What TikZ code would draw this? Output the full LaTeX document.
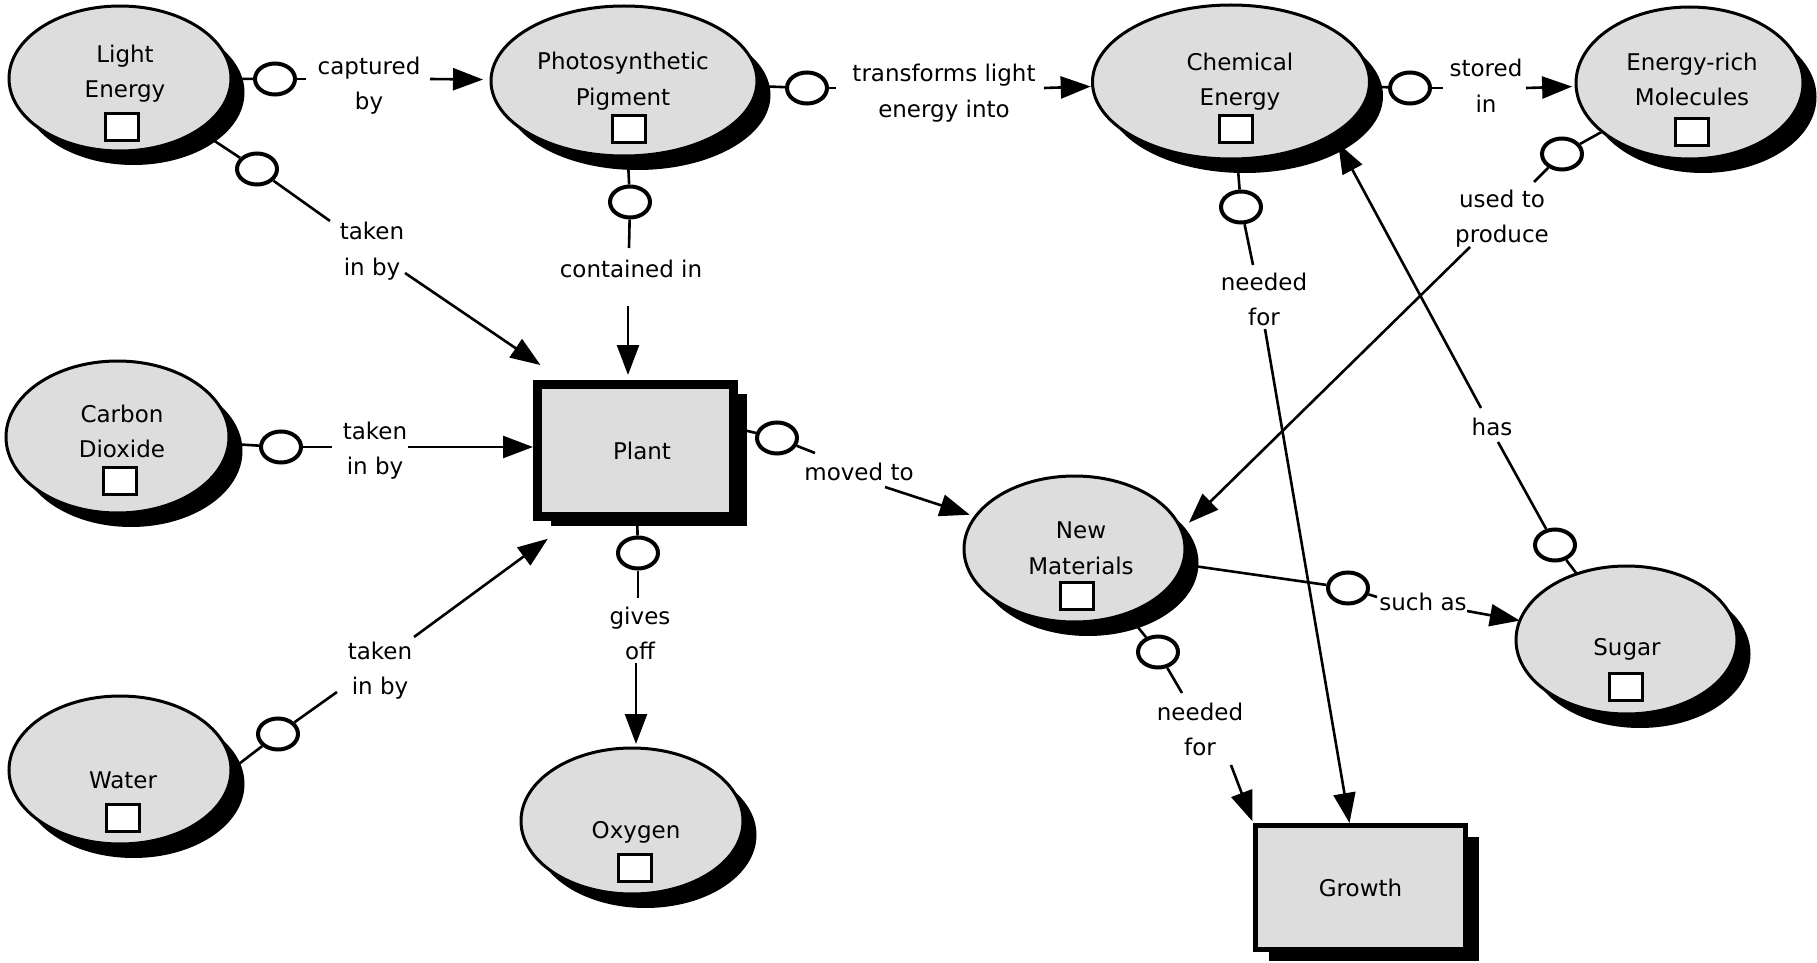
\documentclass[tikz,border=0pt]{standalone}
\usepackage{fontspec}
\setmainfont{DejaVu Sans}
\usetikzlibrary{shapes.geometric,shadows,arrows.meta}
\definecolor{cgrey}{RGB}{221,221,221}
\newcommand\ls{\rule[-8pt]{0pt}{16pt}}
\begin{document}
\begin{tikzpicture}[x=0.5pt,y=-0.5pt,
  font=\fontsize{11.5pt}{16pt}\selectfont,
  concept/.style={ellipse, draw, line width=1.5pt, fill=cgrey, inner sep=0pt, outer sep=0pt,
     drop shadow={shadow xshift=6.75pt, shadow yshift=-7pt, fill=black, opacity=1}},
  cbox/.style={rectangle, draw, fill=cgrey, inner sep=0pt},
  sqbox/.style={rectangle, draw, fill=white, line width=1.5pt, minimum width=16.5pt, minimum height=13.5pt, inner sep=0pt},
  ctext/.style={align=center, inner sep=0pt},
  ltext/.style={align=center, inner sep=0pt},
  conn/.style={ellipse, draw, fill=white, line width=2pt, minimum width=20pt, minimum height=15.5pt, inner sep=0pt},
  link/.style={line width=1.3pt},
  arr/.style={line width=1.3pt, -{Triangle[length=15pt,width=11pt]}}
]
\useasboundingbox (0,0) rectangle (1817,963);

% concepts
\node[concept, minimum width=111pt, minimum height=72.5pt] (le) at (120,78.5) {};
\node[concept, minimum width=133pt, minimum height=75pt] (pp) at (624,81) {};
\node[concept, minimum width=138.5pt, minimum height=77pt] (ce) at (1231,82) {};
\node[concept, minimum width=113.5pt, minimum height=76pt] (erm) at (1689.5,83) {};
\node[concept, minimum width=111.5pt, minimum height=76pt] (cd) at (117.5,437) {};
\node[concept, minimum width=111pt, minimum height=74pt] (w) at (120,770) {};
\node[concept, minimum width=111pt, minimum height=73pt] (o) at (632,821) {};
\node[concept, minimum width=110.5pt, minimum height=73pt] (nm) at (1074.5,549) {};
\node[concept, minimum width=110.5pt, minimum height=74pt] (s) at (1626.5,640) {};

\node[cbox, line width=4.5pt, minimum width=98pt, minimum height=66pt,
  drop shadow={shadow xshift=6.75pt, shadow yshift=-4.75pt, fill=black, opacity=1}] (plant) at (635.5,450.5) {\hspace*{6.5pt}Plant};
\node[cbox, line width=2.5pt, minimum width=105pt, minimum height=62pt,
  drop shadow={shadow xshift=6.75pt, shadow yshift=-5.75pt, fill=black, opacity=1}] (g) at (1360.5,887.5) {Growth};

% concept texts
\node[ctext] (le-t) at (125,79) {\ls Light\\\ls Energy};
\node[ctext] (pp-t) at (623,87) {\ls Photosynthetic\\\ls Pigment};
\node[ctext] (ce-t) at (1240,87.5) {\ls Chemical\\\ls Energy};
\node[ctext] (erm-t) at (1692,87.5) {\ls Energy-rich\\\ls Molecules};
\node[ctext] (cd-t) at (122,439) {\ls Carbon\\\ls Dioxide};
\node[ctext] (w-t) at (123,788) {\ls Water};
\node[ctext] (o-t) at (636,838) {\ls Oxygen};
\node[ctext] (nm-t) at (1081,556) {\ls New\\\ls Materials};
\node[ctext] (s-t) at (1627,655) {\ls Sugar};

% squares
\node[sqbox] (le-s) at (122,127) {};
\node[sqbox] (pp-s) at (628.5,129) {};
\node[sqbox] (ce-s) at (1235.5,129.5) {};
\node[sqbox] (erm-s) at (1691.5,132) {};
\node[sqbox] (cd-s) at (120,481) {};
\node[sqbox] (w-s) at (122.5,817.5) {};
\node[sqbox] (o-s) at (634.5,867.5) {};
\node[sqbox] (nm-s) at (1077,596) {};
\node[sqbox] (s-s) at (1626,687) {};

% connector circles
\node[conn] (c1) at (275,79) {};
\node[conn] (c2) at (257,169) {};
\node[conn] (c3) at (630,202) {};
\node[conn] (c4) at (281,447) {};
\node[conn] (c5) at (278,734) {};
\node[conn] (c6) at (638,553) {};
\node[conn] (c7) at (777,438) {};
\node[conn] (c8) at (1348,588) {};
\node[conn] (c9) at (1158,652) {};
\node[conn] (c10) at (1241,207) {};
\node[conn] (c11) at (1562,154) {};
\node[conn] (c12) at (1555,545) {};
\node[conn] (c13) at (807,88) {};
\node[conn] (c14) at (1410,88) {};

% link labels
\node[ltext] (l1) at (369,91) {\ls captured\\\ls by};
\node[ltext] (l2) at (372,257) {\ls taken\\\ls in by};
\node[ltext] (l3) at (631,277) {\ls contained in};
\node[ltext] (l4) at (375,456.5) {\ls taken\\\ls in by};
\node[ltext] (l5) at (380,676) {\ls taken\\\ls in by};
\node[ltext] (l6) at (640,641) {\ls gives\\\ls off};
\node[ltext] (l7) at (859,480) {\ls moved to};
\node[ltext] (l8) at (1423,610) {\ls such as};
\node[ltext] (l9) at (1200,737) {\ls needed\\\ls for};
\node[ltext] (l10) at (1264,307.5) {\ls needed\\\ls for};
\node[ltext] (l11) at (1502,224) {\ls used to\\\ls produce};
\node[ltext] (l12) at (1492,435) {\ls has};
\node[ltext] (l13) at (944,99) {\ls transforms light\\\ls energy into};
\node[ltext] (l14) at (1486,94) {\ls stored\\\ls in};

% label ends
\coordinate (l1a) at (306,79);   \coordinate (l1b) at (430,79);
\coordinate (l2a) at (330,221);  \coordinate (l2b) at (405,273);
\coordinate (l3a) at (629,248);  \coordinate (l3b) at (628,306);
\coordinate (l4a) at (332,447);  \coordinate (l4b) at (408,447);
\coordinate (l5a) at (337,692);  \coordinate (l5b) at (414,637);
\coordinate (l6a) at (638,598);  \coordinate (l6b) at (636,663);
\coordinate (l7a) at (815,453);  \coordinate (l7b) at (885,487);
\coordinate (l8a) at (1377,597); \coordinate (l8b) at (1467,611);
\coordinate (l9a) at (1182,693); \coordinate (l9b) at (1231,765);
\coordinate (l10a) at (1253,265); \coordinate (l10b) at (1265,329);
\coordinate (l11a) at (1534,182); \coordinate (l11b) at (1470,247);
\coordinate (l12a) at (1498,442); \coordinate (l12b) at (1481,408);
\coordinate (l13a) at (836,88);  \coordinate (l13b) at (1044,88);
\coordinate (l14a) at (1443,88); \coordinate (l14b) at (1526,88);

% links
\draw[link] (le) -- (c1);
\draw[link] (c1) -- (l1a);
\draw[arr, shorten >=4pt] (l1b) -- (pp);

\draw[link] (le) -- (c2);
\draw[link] (c2) -- (l2a);
\draw[arr, shorten >=13.3pt] (l2b) -- (plant.136);

\draw[link] (pp) -- (c3);
\draw[link] (c3) -- (l3a);
\draw[arr, shorten >=2.5pt] (l3b) -- (l3b |- plant.north);

\draw[link] (cd) -- (c4);
\draw[link] (c4) -- (l4a);
\draw[arr] (l4b) -- (l4b -| plant.west);

\draw[link] (w.east) -- (c5);
\draw[link] (c5) -- (l5a);
\draw[arr, shorten >=15pt] (l5b) -- (plant.-132.5);

\draw[link] (plant) -- (c6);
\draw[link] (c6) -- (l6a);
\draw[arr, shorten >=2pt] (l6b) -- (l6b |- o.north);

\draw[link] (plant.12) -- (c7);
\draw[link] (c7) -- (l7a);
\draw[arr, shorten >=3pt] (l7b) -- (nm);

\draw[link] (nm) -- (c8);
\draw[link] (c8) -- (l8a);
\draw[arr] (l8b) -- (s);

\draw[link] (nm) -- (c9);
\draw[link] (c9) -- (l9a);
\draw[arr, shorten >=1pt] (l9b) -- (g.north west);

\draw[link] (ce) -- (c10);
\draw[link] (c10) -- (l10a);
\draw[arr] (l10b) -- (g);

\draw[link] (erm) -- (c11);
\draw[link] (c11) -- (l11a);
\draw[arr, shorten >=5.4pt] (l11b) -- (nm.10);

\draw[link] (s) -- (c12);
\draw[link] (c12) -- (l12a);
\draw[arr, shorten >=5.35pt] (l12b) -- (ce.-27.7);

\draw[link] (pp) -- (c13);
\draw[link] (c13) -- (l13a);
\draw[arr, shorten >=1pt] (l13b) -- (ce);

\draw[link] (ce) -- (c14);
\draw[link] (c14) -- (l14a);
\draw[arr, shorten >=2pt] (l14b) -- (erm);
\end{tikzpicture}
\end{document}
